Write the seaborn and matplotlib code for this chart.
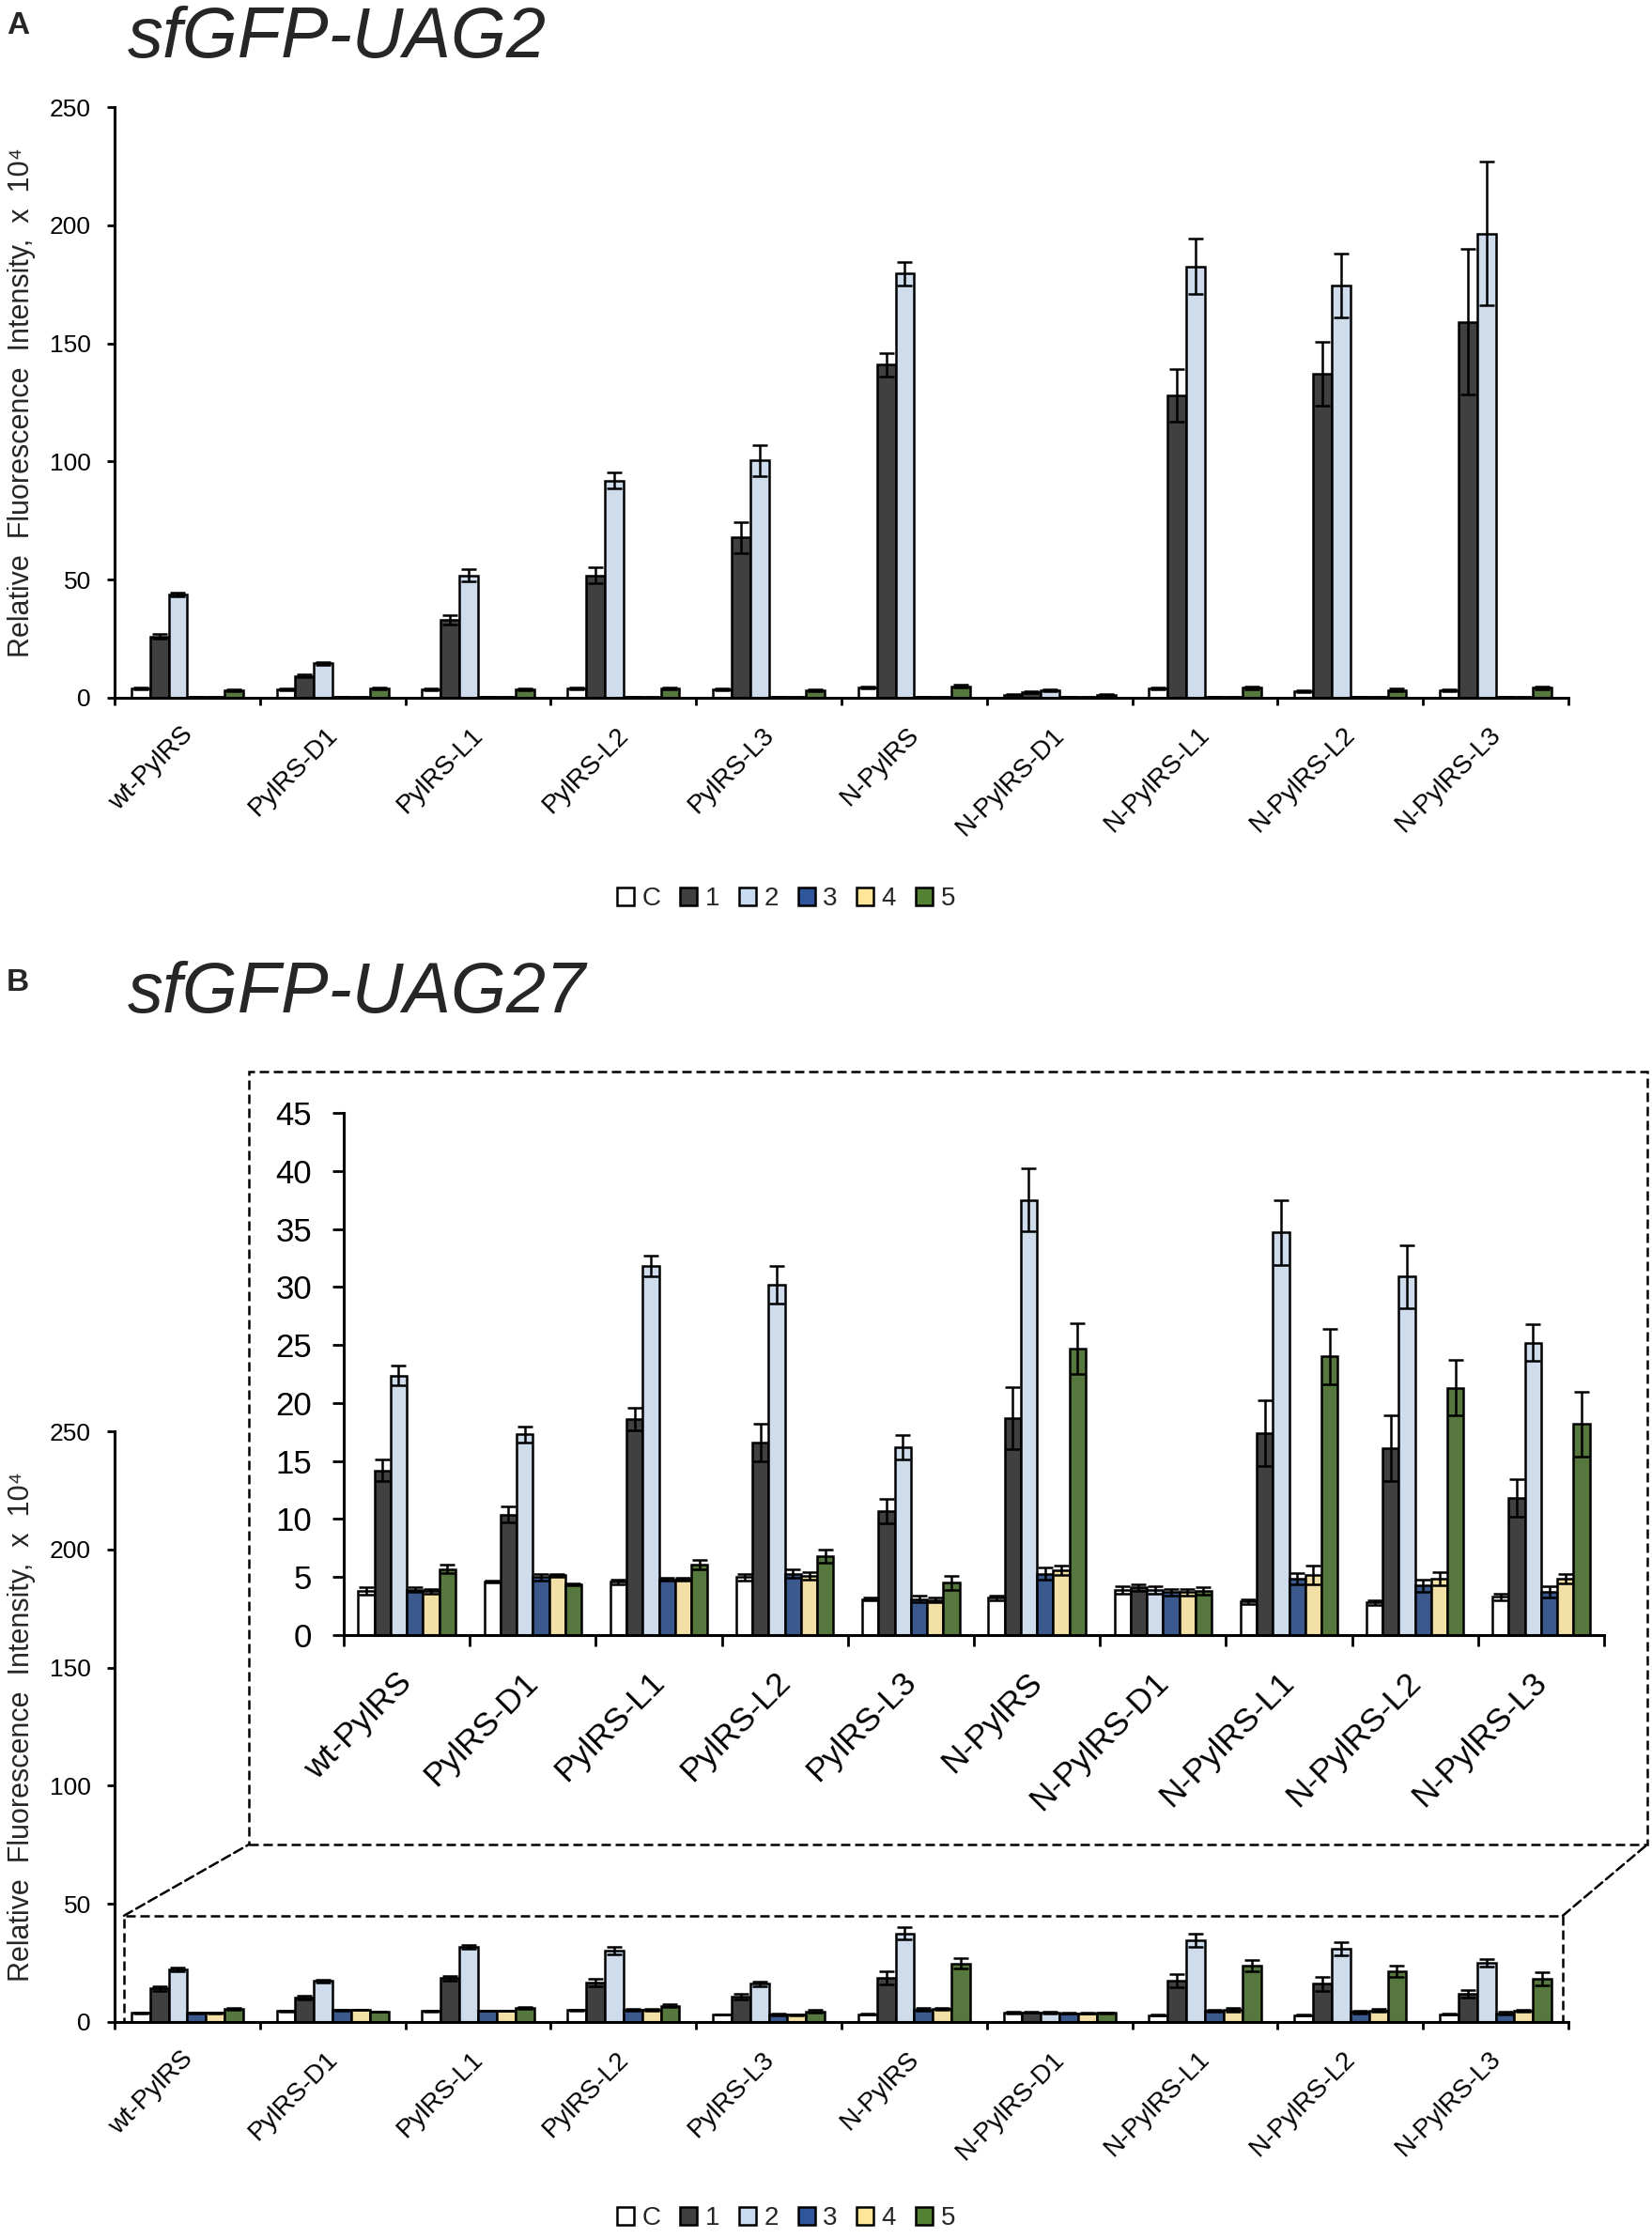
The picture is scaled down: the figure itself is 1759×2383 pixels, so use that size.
import numpy as np
import pandas as pd
import seaborn as sns
import matplotlib.pyplot as plt
from matplotlib.patches import Patch, Rectangle, ConnectionPatch

# Variants on the x axis and the six conditions (hue)
variants = ["wt-PylRS", "PylRS-D1", "PylRS-L1", "PylRS-L2", "PylRS-L3",
            "N-PylRS", "N-PylRS-D1", "N-PylRS-L1", "N-PylRS-L2", "N-PylRS-L3"]
series = ["C", "1", "2", "3", "4", "5"]
colors = ["#ffffff", "#404040", "#c9dcf0", "#2f559a", "#ffe699", "#548235"]

# sfGFP-UAG2, rows = variants, columns = series (x 10^4)
uag2_mean = [
    [3.8, 26.0, 43.8, 0.4, 0.2, 3.3],
    [3.5, 9.2, 14.6, 0.4, 0.2, 3.8],
    [3.5, 33.0, 51.8, 0.4, 0.2, 3.5],
    [3.8, 51.8, 92.0, 0.3, 0.2, 3.8],
    [3.5, 67.8, 100.4, 0.4, 0.2, 3.3],
    [4.2, 141.0, 179.5, 0.4, 0.2, 4.9],
    [1.3, 2.4, 3.1, 0.4, 0.2, 1.3],
    [3.9, 128.0, 182.6, 0.4, 0.2, 4.2],
    [2.8, 137.1, 174.5, 0.4, 0.2, 3.3],
    [3.1, 159.0, 196.5, 0.4, 0.2, 4.2],
]
uag2_err = [
    [0.4, 1.0, 0.8, 0.1, 0.1, 0.4],
    [0.4, 0.6, 0.5, 0.1, 0.1, 0.4],
    [0.4, 2.0, 2.5, 0.1, 0.1, 0.4],
    [0.4, 3.5, 3.5, 0.1, 0.1, 0.4],
    [0.4, 6.7, 6.7, 0.1, 0.1, 0.4],
    [0.4, 5.0, 5.0, 0.1, 0.1, 0.5],
    [0.3, 0.4, 0.4, 0.1, 0.1, 0.3],
    [0.4, 11.0, 11.6, 0.1, 0.1, 0.5],
    [0.4, 13.5, 13.5, 0.1, 0.1, 0.5],
    [0.4, 30.8, 30.4, 0.1, 0.1, 0.5],
]

# sfGFP-UAG27
uag27_mean = [
    [3.8, 14.2, 22.35, 3.9, 3.8, 5.7],
    [4.6, 10.4, 17.3, 5.0, 5.15, 4.35],
    [4.6, 18.6, 31.8, 4.8, 4.8, 6.1],
    [5.0, 16.6, 30.2, 5.3, 5.1, 6.8],
    [3.1, 10.7, 16.2, 3.1, 3.0, 4.5],
    [3.2, 18.7, 37.5, 5.3, 5.6, 24.7],
    [3.9, 4.1, 3.9, 3.7, 3.7, 3.8],
    [2.9, 17.4, 34.7, 4.85, 5.2, 24.0],
    [2.8, 16.1, 30.9, 4.25, 4.85, 21.3],
    [3.3, 11.8, 25.2, 3.7, 4.85, 18.2],
]
uag27_err = [
    [0.3, 0.9, 0.85, 0.2, 0.2, 0.35],
    [0.1, 0.7, 0.7, 0.3, 0.15, 0.1],
    [0.2, 0.95, 0.9, 0.1, 0.1, 0.4],
    [0.3, 1.6, 1.6, 0.4, 0.35, 0.6],
    [0.1, 1.05, 1.05, 0.3, 0.2, 0.6],
    [0.2, 2.65, 2.7, 0.5, 0.4, 2.2],
    [0.3, 0.3, 0.3, 0.3, 0.3, 0.3],
    [0.2, 2.8, 2.8, 0.5, 0.8, 2.4],
    [0.2, 2.8, 2.7, 0.5, 0.6, 2.4],
    [0.3, 1.6, 1.6, 0.5, 0.4, 2.8],
]

ylabel = "Relative  Fluorescence  Intensity,  x  10\u2074"

sns.set_style("ticks")
plt.rcParams["font.family"] = ["Liberation Sans", "DejaVu Sans"]
plt.rcParams["axes.edgecolor"] = "black"
plt.rcParams["xtick.color"] = "black"
plt.rcParams["ytick.color"] = "black"

W, H = 1759, 2383
fig = plt.figure(figsize=(W / 100, H / 100), dpi=100)


def box(left, top, right, bottom):
    # pixel box -> figure rect
    return [left / W, 1 - bottom / H, (right - left) / W, (bottom - top) / H]


def draw_bars(ax, mean, err, cap):
    df = pd.DataFrame(mean, columns=series)
    df["variant"] = variants
    long = df.melt(id_vars="variant", var_name="series", value_name="value")
    sns.barplot(data=long, x="variant", y="value", hue="series",
                order=variants, hue_order=series, palette=colors,
                width=0.77, gap=0, edgecolor="black", linewidth=1.8,
                errorbar=None, legend=False, ax=ax)
    err = np.array(err)
    bar_sets = list(ax.containers)
    for j, bars in enumerate(bar_sets):
        xs, ys, es = [], [], []
        for b in bars:
            xc = b.get_x() + b.get_width() / 2
            xs.append(xc)
            ys.append(b.get_height())
            es.append(err[int(round(xc)), j])
        ax.errorbar(xs, ys, yerr=es, fmt="none", ecolor="black",
                    elinewidth=1.8, capsize=cap, capthick=1.8, zorder=5)


def style_axes(ax, ymax, ystep, tick_size, label_size, tick_len, ypad, xpad, shift):
    ax.set_xlim(-0.5, len(variants) - 0.5)
    ax.set_ylim(0, ymax)
    ax.set_yticks(np.arange(0, ymax + 1, ystep))
    sns.despine(ax=ax)
    for s in ["left", "bottom"]:
        ax.spines[s].set_linewidth(2.2)
    # invisible major ticks carry the labels, nudged so the label ends sit at the group centre
    ax.set_xticks(np.arange(len(variants)) + shift)
    ax.set_xticklabels(variants, rotation=45, ha="right", va="top", fontsize=label_size)
    ax.set_xticks(np.arange(-0.5, len(variants), 1), minor=True)
    ax.tick_params(axis="x", which="major", length=0, pad=xpad)
    ax.tick_params(axis="x", which="minor", length=tick_len, width=2)
    ax.tick_params(axis="y", length=tick_len, width=2, labelsize=tick_size, pad=ypad)
    ax.set_xlabel("")
    ax.set_ylabel("")
    ax.set_facecolor("none")


def add_legend(ycenter):
    handles = [Patch(facecolor=c, edgecolor="black", linewidth=1.8, label=s)
               for c, s in zip(colors, series)]
    fig.legend(handles=handles, loc="center", bbox_to_anchor=(837 / W, 1 - ycenter / H),
               ncol=6, frameon=False, fontsize=20, handlelength=0.65, handleheight=0.65,
               handletextpad=0.3, columnspacing=0.75, borderpad=0)


# Panel A
ax_a = fig.add_axes(box(122, 114, 1670, 743))
draw_bars(ax_a, uag2_mean, uag2_err, 6)
style_axes(ax_a, 250, 50, 19, 20, 6, 12, 19, 0.07)
ax_a.set_ylabel(ylabel, fontsize=22)
ax_a.yaxis.set_label_coords((38 - 122) / 1548, 0.5)
fig.text(7 / W, 1 - 36 / H, "A", fontsize=24, fontweight="bold", va="baseline")
fig.text(136 / W, 1 - 61 / H, "sfGFP-UAG2", fontsize=54.5, style="italic", va="baseline")
add_legend(957)

# Panel B, full scale
ax_b = fig.add_axes(box(122, 1524, 1670, 2153))
draw_bars(ax_b, uag27_mean, uag27_err, 6)
style_axes(ax_b, 250, 50, 19, 20, 6, 12, 19, 0.07)
ax_b.set_ylabel(ylabel, fontsize=22)
ax_b.yaxis.set_label_coords((38 - 122) / 1548, 0.5)
fig.text(7 / W, 1 - 1055 / H, "B", fontsize=24, fontweight="bold", va="baseline")
fig.text(136 / W, 1 - 1078 / H, "sfGFP-UAG27", fontsize=54.5, style="italic", va="baseline")
add_legend(2362)

# Panel B, zoomed inset
ax_in = fig.add_axes(box(366, 1185, 1708, 1741))
draw_bars(ax_in, uag27_mean, uag27_err, 6)
style_axes(ax_in, 45, 5, 25, 25.5, 8.4, 16, 24, 0.09)

# dashed zoom boxes and connectors (x in axes fraction, y in data)
dash = (0, (4, 2))
xa0, xa1 = (132 - 122) / 1548, (1664 - 122) / 1548
ax_b.add_patch(Rectangle((xa0, 0), xa1 - xa0, 45, transform=ax_b.get_yaxis_transform(),
                         fill=False, ls=dash, lw=1.8, ec="black", clip_on=False, zorder=6))
fx0, fx1 = 265 / W, 1754 / W
fy0, fy1 = 1 - 1964 / H, 1 - 1141 / H
fig.add_artist(Rectangle((fx0, fy0), fx1 - fx0, fy1 - fy0, transform=fig.transFigure,
                         fill=False, ls=dash, lw=1.8, ec="black"))
for xa, fx in [(xa0, fx0), (xa1, fx1)]:
    fig.add_artist(ConnectionPatch(xyA=(xa, 45), coordsA=ax_b.get_yaxis_transform(),
                                   xyB=(fx, fy0), coordsB=fig.transFigure,
                                   ls=dash, lw=1.8, color="black"))

fig.savefig("out.png", dpi=100)
